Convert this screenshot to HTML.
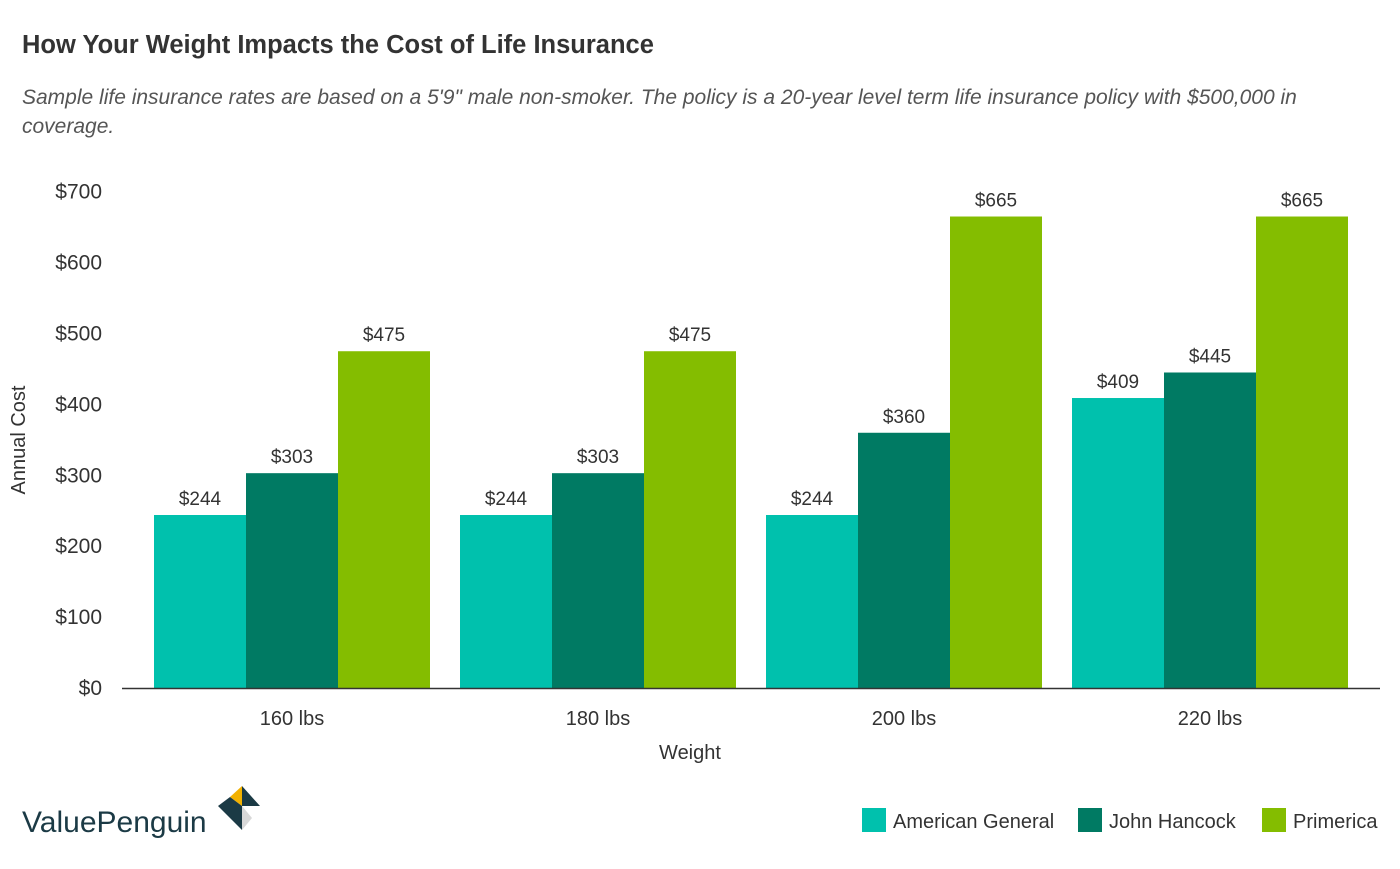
<!DOCTYPE html>
<html><head><meta charset="utf-8"><style>
body{margin:0;background:#fff;font-family:"Liberation Sans",sans-serif;}
svg text{font-family:"Liberation Sans",sans-serif;}
</style></head><body>
<svg width="1400" height="864" viewBox="0 0 1400 864" xmlns="http://www.w3.org/2000/svg" id="chart">
<text x="22" y="53" font-size="25.5" font-weight="bold" fill="#333">How Your Weight Impacts the Cost of Life Insurance</text>
<text x="22" y="104" font-size="21" font-style="italic" fill="#555">Sample life insurance rates are based on a 5'9" male non-smoker. The policy is a 20-year level term life insurance policy with $500,000 in</text>
<text x="22" y="133" font-size="21" font-style="italic" fill="#555">coverage.</text>
<g id="yaxis"></g>
<g id="bars"></g>
<g id="xaxis"></g>
<line x1="122" y1="688.5" x2="1380" y2="688.5" stroke="#333" stroke-width="1.5"/>
<text x="690" y="759" font-size="20" text-anchor="middle" fill="#333">Weight</text>
<text transform="translate(25,440) rotate(-90)" font-size="20" text-anchor="middle" fill="#333">Annual Cost</text>
<g>
<text x="22" y="832" font-size="30" fill="#1b3a45">ValuePenguin</text>
<polygon points="242,786 260,806 242,806" fill="#1b3a45"/>
<polygon points="242,786 242,806 230,797" fill="#f2b100"/>
<polygon points="230,797 242,806 218,806" fill="#1b3a45"/>
<polygon points="218,806 242,806 242,830" fill="#1b3a45"/>
<polygon points="242,806 252,818 242,830" fill="#d8d8d8"/>
</g>
<g id="legend"></g>
</svg>
<script>
const categories=["160 lbs","180 lbs","200 lbs","220 lbs"];
const seriesNames=["American General","John Hancock","Primerica"];
const americanGeneral=[244,244,244,409];
const johnHancock=[303,303,360,445];
const primerica=[475,475,665,665];
const yTicks=[0,100,200,300,400,500,600,700];
const colors=["#00c1ad","#007a63","#84bd00"];
const series=[americanGeneral,johnHancock,primerica];
const NS="http://www.w3.org/2000/svg";
const y=v=>688-v*0.709;
const bandX=i=>154+i*306;
const barW=92;
function mk(tag,attrs,parent){const e=document.createElementNS(NS,tag);for(const k in attrs)e.setAttribute(k,attrs[k]);parent.appendChild(e);return e;}
const ya=document.getElementById('yaxis');
yTicks.forEach(t=>{const e=mk('text',{x:102,y:y(t)+7,'font-size':21,'text-anchor':'end',fill:'#333'},ya);e.textContent='$'+t;

});
const bg=document.getElementById('bars');
series.forEach((s,j)=>s.forEach((v,i)=>{
const x=bandX(i)+j*barW;
const r=mk('rect',{x:x,y:y(v),width:barW,height:688-y(v),fill:colors[j]},bg);


const t=mk('text',{x:x+barW/2,y:y(v)-10,'font-size':19,'text-anchor':'middle',fill:'#333'},bg);t.textContent='$'+v;


}));
const xa=document.getElementById('xaxis');
categories.forEach((c,i)=>{const t=mk('text',{x:bandX(i)+138,y:725,'font-size':20,'text-anchor':'middle',fill:'#333'},xa);t.textContent=c;

});
const lg=document.getElementById('legend');
const lx=[862,1078,1262];
seriesNames.forEach((n,j)=>{
const r=mk('rect',{x:lx[j],y:808,width:24,height:24,fill:colors[j]},lg);


const t=mk('text',{x:lx[j]+31,y:828,'font-size':20,fill:'#333'},lg);t.textContent=n;

});
</script>
</body></html>
